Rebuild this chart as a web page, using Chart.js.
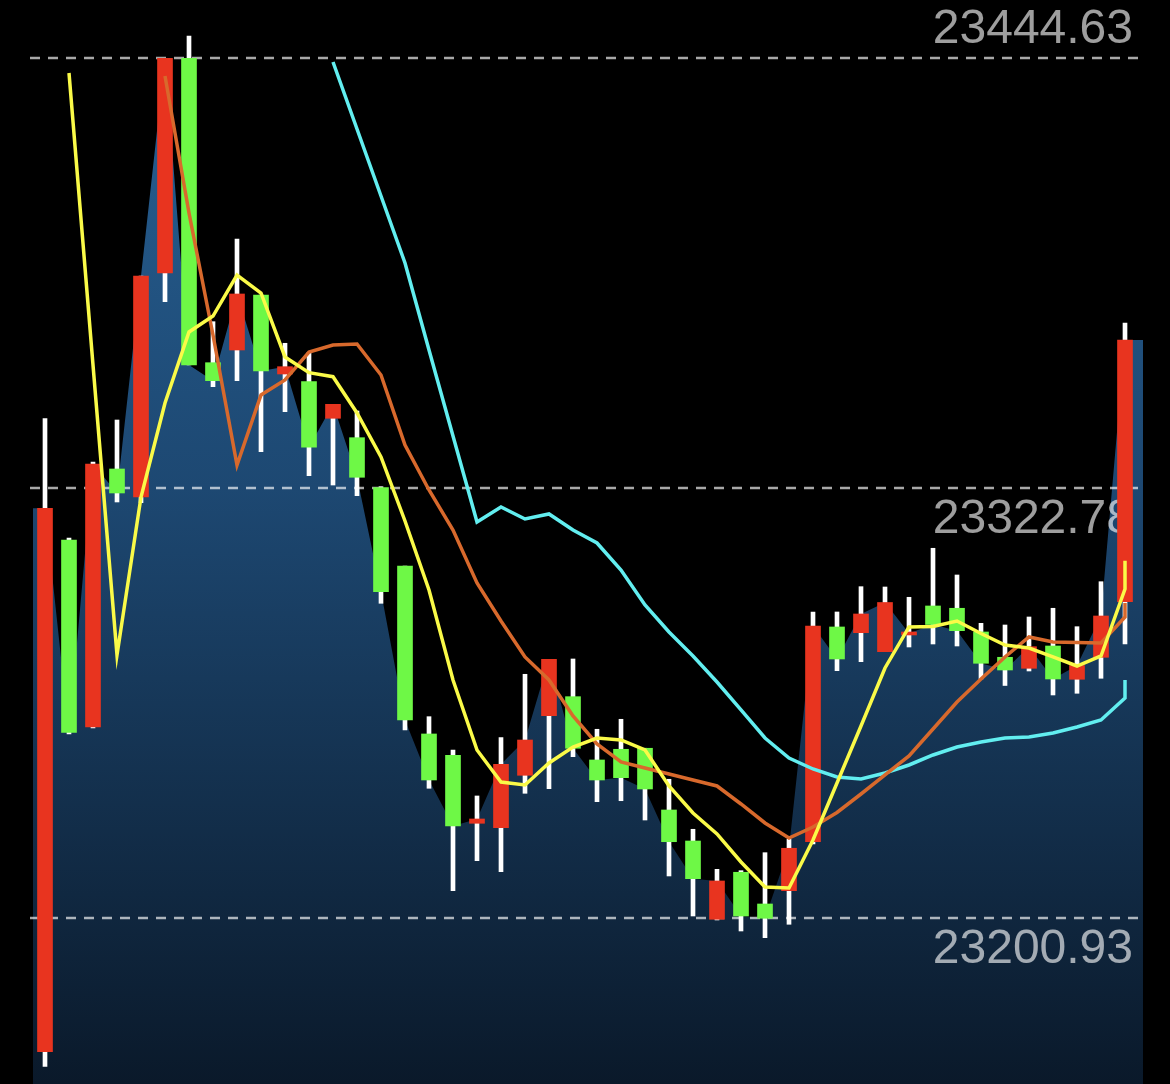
<!DOCTYPE html>
<html>
<head>
<meta charset="utf-8">
<title>Kline</title>
<script src="https://cdn.jsdelivr.net/npm/chart.js@4.4.1/dist/chart.umd.min.js"></script>
<style>
    html, body { margin: 0; padding: 0; background: #000; }
    #wrap { width: 1170px; height: 1084px; }
</style>
</head>
<body>
<div id="wrap"><canvas id="klineChart" width="1170" height="1084"></canvas></div>
<script>
// one entry per bar, oldest first (red = up, green = down)
const openPrices = [23163.12, 23308.13, 23255.14, 23328.25, 23320.31, 23383.79, 23444.63, 23358.37, 23361.97, 23377.56,
    23355.17, 23352.99, 23342.62, 23337.12, 23322.95, 23300.76, 23253.16, 23247.12, 23227.85, 23226.60,
    23241.45, 23258.34, 23263.73, 23245.79, 23248.82, 23249.11, 23231.62, 23222.83, 23200.65, 23213.97,
    23204.98, 23208.75, 23222.63, 23283.48, 23281.86, 23276.48, 23281.21, 23289.43, 23288.78, 23282.06,
    23274.89, 23271.77, 23278.09, 23268.66, 23274.89, 23290.64];
const highPrices = [23342.56, 23308.70, 23330.23, 23342.13, 23382.94, 23444.63, 23450.95, 23369.99, 23393.42, 23377.56,
    23363.87, 23361.20, 23346.58, 23344.68, 23323.23, 23300.76, 23258.06, 23248.62, 23235.59, 23252.11,
    23270.07, 23274.32, 23274.41, 23254.49, 23257.32, 23249.11, 23240.32, 23226.15, 23214.81, 23214.42,
    23219.52, 23223.31, 23287.73, 23287.73, 23294.90, 23294.81, 23291.89, 23305.78, 23298.21, 23284.52,
    23284.04, 23286.31, 23288.78, 23283.56, 23296.31, 23369.62];
const lowPrices = [23158.93, 23253.16, 23254.86, 23318.90, 23318.70, 23375.66, 23357.72, 23351.57, 23353.27, 23333.15,
    23344.49, 23326.35, 23323.71, 23320.68, 23290.19, 23254.29, 23237.77, 23208.75, 23217.25, 23214.14,
    23236.35, 23237.66, 23246.72, 23233.97, 23234.25, 23228.78, 23212.92, 23201.58, 23200.45, 23197.33,
    23195.43, 23199.23, 23221.98, 23271.09, 23273.64, 23276.48, 23277.81, 23278.66, 23278.09, 23268.74,
    23266.90, 23271.01, 23264.21, 23264.69, 23268.94, 23278.66];
const closePrices = [23317.09, 23253.58, 23329.67, 23321.45, 23382.94, 23444.63, 23357.72, 23353.27, 23377.84, 23356.02,
    23357.24, 23334.40, 23346.58, 23325.90, 23293.48, 23257.12, 23240.12, 23227.08, 23229.07, 23244.57,
    23251.45, 23274.32, 23249.11, 23240.12, 23240.77, 23237.57, 23222.63, 23212.15, 23211.50, 23201.58,
    23200.93, 23220.77, 23283.76, 23274.41, 23287.16, 23290.42, 23281.69, 23284.18, 23282.43, 23273.19,
    23271.29, 23277.89, 23268.74, 23272.56, 23286.59, 23364.80];

// moving averages, null before each line starts
const maShort = [null, 23440.46, 23357.72, 23275.54, 23320.31, 23346.95, 23367.07, 23371.60, 23383.22, 23378.12,
    23359.99, 23355.54, 23354.40, 23344.12, 23331.65, 23313.51, 23293.96, 23268.46, 23248.62, 23239.55,
    23238.70, 23244.94, 23249.47, 23252.02, 23251.45, 23248.62, 23238.42, 23230.77, 23224.82, 23216.88,
    23209.80, 23209.52, 23223.12, 23239.27, 23255.42, 23271.86, 23283.48, 23283.62, 23285.18, 23281.63,
    23278.38, 23277.52, 23274.98, 23272.42, 23275.26, 23294.24];
const maMid = [null, null, null, null, null, 23439.61, 23400.79, 23366.22, 23329.38, 23349.22,
    23353.47, 23361.40, 23363.39, 23363.67, 23354.89, 23335.05, 23322.30, 23310.96, 23295.94, 23285.18,
    23274.98, 23268.46, 23258.26, 23250.32, 23245.22, 23243.52, 23241.82, 23240.12, 23238.42, 23233.32,
    23227.94, 23223.68, 23226.80, 23230.91, 23236.15, 23241.54, 23246.92, 23254.57, 23262.22, 23268.74,
    23274.98, 23280.64, 23279.23, 23279.08, 23278.94, 23286.31];
const maLong = [null, null, null, null, null, null, null, null, null, null,
    null, null, 23443.58, 23424.60, 23405.61, 23386.62, 23361.97, 23337.60, 23313.23, 23317.48,
    23314.08, 23315.50, 23310.96, 23307.28, 23299.63, 23289.71, 23282.06, 23275.26, 23267.89, 23259.96,
    23252.02, 23246.35, 23243.24, 23240.97, 23240.40, 23242.10, 23244.37, 23247.20, 23249.47, 23250.89,
    23252.02, 23252.31, 23253.44, 23255.14, 23257.12, 23263.36];
// live tick of each average on the last bar
const maTails = [23302.26, 23290.28, 23268.46];

// dashed price lines and their labels
const gridValues = [23444.63, 23322.78, 23200.93];

const upColor = '#e8341f';
const downColor = '#6ef846';
const lastIdx = closePrices.length - 1;

//turn an average into points, adding the live tick on the last bar
function toPoints(values, tail) {
    const pts = [];
    values.forEach((v, i) => {
        if (v !== null) pts.push({ x: i, y: v });
    });
    pts.push({ x: lastIdx, y: tail });
    return pts;
}

//close area runs out to both edges of the plot
const areaPoints = [{ x: -0.5, y: closePrices[0] }]
    .concat(closePrices.map((c, i) => ({ x: i, y: c })))
    .concat([{ x: lastIdx + 0.75, y: closePrices[lastIdx] }]);

const wickData = highPrices.map((h, i) => ({ x: i, y: [lowPrices[i], h] }));
const bodyData = openPrices.map((o, i) => ({ x: i, y: [o, closePrices[i]] }));
const bodyColors = openPrices.map((o, i) => closePrices[i] >= o ? upColor : downColor);

//draw the dashed lines and labels right above the area
const priceLines = {
    id: 'priceLines',
    afterDatasetDraw(chart, args) {
        if (args.index !== 0) return;
        const ctx = chart.ctx;
        const y = chart.scales.y;
        const area = chart.chartArea;
        ctx.save();
        ctx.strokeStyle = 'rgba(255, 255, 255, 0.66)';
        ctx.lineWidth = 2.5;
        ctx.setLineDash([10, 8]);
        ctx.fillStyle = 'rgba(255, 255, 255, 0.62)';
        ctx.font = '48px "Liberation Sans", Arial, sans-serif';
        ctx.textAlign = 'right';
        ctx.textBaseline = 'alphabetic';
        gridValues.forEach((v, i) => {
            const py = Math.round(y.getPixelForValue(v));
            ctx.beginPath();
            ctx.moveTo(area.left - 3, py);
            ctx.lineTo(area.right - 3, py);
            ctx.stroke();
            const ty = i === 0 ? py - 15.5 : py + 44.5;
            ctx.fillText(v.toFixed(2), area.right - 10, ty);
        });
        ctx.restore();
    }
};

new Chart(document.getElementById('klineChart'), {
    data: {
        datasets: [
            {
                type: 'line',
                data: areaPoints,
                fill: 'start',
                borderWidth: 0,
                pointRadius: 0,
                tension: 0,
                order: 10,
                backgroundColor: (c) => {
                    const area = c.chart.chartArea;
                    if (!area) return 'rgb(30, 75, 118)';
                    const g = c.chart.ctx.createLinearGradient(0, area.top, 0, area.bottom);
                    g.addColorStop(0, 'rgb(40, 98, 150)');
                    g.addColorStop(0.45, 'rgb(29, 72, 114)');
                    g.addColorStop(1, 'rgb(10, 25, 42)');
                    return g;
                }
            },
            {
                type: 'bar',
                data: wickData,
                backgroundColor: '#ffffff',
                borderWidth: 0,
                grouped: false,
                barThickness: 4,
                maxBarThickness: 4,
                order: 8
            },
            {
                type: 'bar',
                data: bodyData,
                backgroundColor: bodyColors,
                borderWidth: 0,
                grouped: false,
                barThickness: 15,
                maxBarThickness: 15,
                minBarLength: 3,
                order: 6
            },
            {
                type: 'line',
                data: toPoints(maLong, maTails[2]),
                borderColor: '#62eef0',
                borderWidth: 3.5,
                pointRadius: 0,
                tension: 0,
                fill: false,
                order: 2
            },
            {
                type: 'line',
                data: toPoints(maMid, maTails[1]),
                borderColor: '#d8692c',
                borderWidth: 3.5,
                pointRadius: 0,
                tension: 0,
                fill: false,
                order: 1
            },
            {
                type: 'line',
                data: toPoints(maShort, maTails[0]),
                borderColor: '#fafa48',
                borderWidth: 3.5,
                pointRadius: 0,
                tension: 0,
                fill: false,
                order: 0
            }
        ]
    },
    options: {
        responsive: false,
        animation: false,
        events: [],
        layout: {
            padding: { left: 33, right: 27, top: 0, bottom: 0 }
        },
        scales: {
            x: { type: 'linear', offset: false, min: -0.5, max: lastIdx + 0.75, display: false },
            y: { min: 23153.97, max: 23461.15, display: false }
        },
        plugins: {
            legend: { display: false },
            tooltip: { enabled: false }
        }
    },
    plugins: [priceLines]
});
</script>
</body>
</html>
